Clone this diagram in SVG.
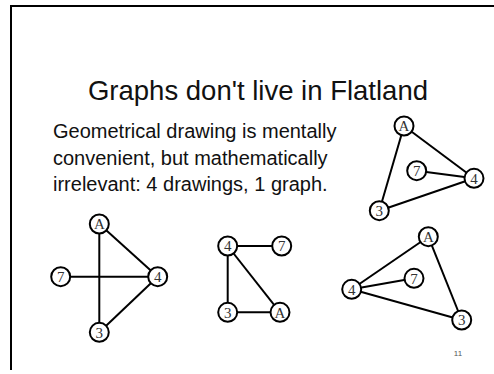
<svg xmlns="http://www.w3.org/2000/svg" width="494" height="374" viewBox="0 0 494 374">
<style>
.frame{fill:none;stroke:#000;stroke-width:2}
.title{font-family:"Liberation Sans",Arial,sans-serif;font-size:27.5px;fill:#111}
.body{font-family:"Liberation Sans",Arial,sans-serif;font-size:20px;fill:#111}
.edge{stroke:#000;stroke-width:2;fill:none}
.node circle{fill:#fff;stroke:#000;stroke-width:2}
.node text{font-family:"Liberation Serif","Times New Roman",serif;font-size:15px;fill:#333;text-anchor:middle}
.pg{font-family:"Liberation Sans",Arial,sans-serif;font-size:8px;fill:#555}
</style>
<rect width="494" height="374" fill="#fff"/>
<path class="frame" d="M11,370 V6 H494"/>
<text class="title" x="258" y="100" text-anchor="middle">Graphs don't live in Flatland</text>
<text class="body" x="53" y="138">Geometrical drawing is mentally</text>
<text class="body" x="53" y="164.5">convenient, but mathematically</text>
<text class="body" x="53" y="190.5">irrelevant: 4 drawings, 1 graph.</text>
<g id="connectors">
<line class="edge" x1="404" y1="126" x2="474" y2="178.3"/>
<line class="edge" x1="404" y1="126" x2="379.3" y2="210.7"/>
<line class="edge" x1="416.7" y1="170.7" x2="474" y2="178.3"/>
<line class="edge" x1="379.3" y1="210.7" x2="474" y2="178.3"/>
<line class="edge" x1="99.3" y1="224" x2="99.3" y2="332.3"/>
<line class="edge" x1="60.7" y1="276.7" x2="157.7" y2="276.7"/>
<line class="edge" x1="99.3" y1="224" x2="157.7" y2="276.7"/>
<line class="edge" x1="157.7" y1="276.7" x2="99.3" y2="332.3"/>
<line class="edge" x1="227.7" y1="246" x2="281.7" y2="246"/>
<line class="edge" x1="227.7" y1="246" x2="227.7" y2="312.3"/>
<line class="edge" x1="227.7" y1="246" x2="280" y2="312.3"/>
<line class="edge" x1="227.7" y1="312.3" x2="280" y2="312.3"/>
<line class="edge" x1="428.3" y1="236.7" x2="351.7" y2="289.3"/>
<line class="edge" x1="428.3" y1="236.7" x2="461.7" y2="320"/>
<line class="edge" x1="351.7" y1="289.3" x2="414" y2="278.3"/>
<line class="edge" x1="351.7" y1="289.3" x2="461.7" y2="320"/>
</g>
<g id="g1-A" class="node"><circle cx="404" cy="126" r="9.5"/><text x="404" y="131.3">A</text></g>
<g id="g1-7" class="node"><circle cx="416.7" cy="170.7" r="9.5"/><text x="416.7" y="176">7</text></g>
<g id="g1-4" class="node"><circle cx="474" cy="178.3" r="9.5"/><text x="474" y="183.6">4</text></g>
<g id="g1-3" class="node"><circle cx="379.3" cy="210.7" r="9.5"/><text x="379.3" y="216">3</text></g>
<g id="g2-A" class="node"><circle cx="99.3" cy="224" r="9.5"/><text x="99.3" y="229.3">A</text></g>
<g id="g2-7" class="node"><circle cx="60.7" cy="276.7" r="9.5"/><text x="60.7" y="282">7</text></g>
<g id="g2-4" class="node"><circle cx="157.7" cy="276.7" r="9.5"/><text x="157.7" y="282">4</text></g>
<g id="g2-3" class="node"><circle cx="99.3" cy="332.3" r="9.5"/><text x="99.3" y="337.6">3</text></g>
<g id="g3-4" class="node"><circle cx="227.7" cy="246" r="9.5"/><text x="227.7" y="251.3">4</text></g>
<g id="g3-7" class="node"><circle cx="281.7" cy="246" r="9.5"/><text x="281.7" y="251.3">7</text></g>
<g id="g3-3" class="node"><circle cx="227.7" cy="312.3" r="9.5"/><text x="227.7" y="317.6">3</text></g>
<g id="g3-A" class="node"><circle cx="280" cy="312.3" r="9.5"/><text x="280" y="317.6">A</text></g>
<g id="g4-A" class="node"><circle cx="428.3" cy="236.7" r="9.5"/><text x="428.3" y="242">A</text></g>
<g id="g4-7" class="node"><circle cx="414" cy="278.3" r="9.5"/><text x="414" y="283.6">7</text></g>
<g id="g4-4" class="node"><circle cx="351.7" cy="289.3" r="9.5"/><text x="351.7" y="294.6">4</text></g>
<g id="g4-3" class="node"><circle cx="461.7" cy="320" r="9.5"/><text x="461.7" y="325.3">3</text></g>
<text class="pg" x="458" y="356" text-anchor="middle">11</text>
</svg>
